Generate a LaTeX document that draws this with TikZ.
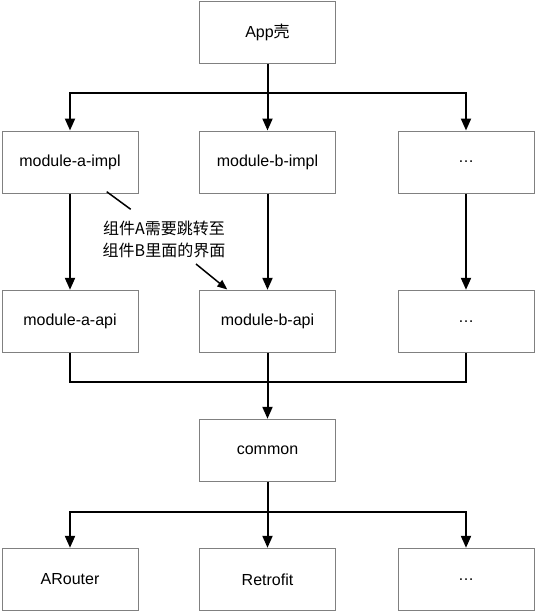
\documentclass[tikz,border=0pt]{standalone}
\usepackage{fontspec}
\setmainfont{Liberation Sans}
\newfontfamily\cjk{Noto Sans CJK SC}
\usetikzlibrary{arrows.meta}
\definecolor{bordergray}{RGB}{128,128,128}
\begin{document}
\begin{tikzpicture}[x=1pt,y=-1pt,
  box/.style={draw=bordergray, line width=1pt, minimum width=136pt, minimum height=62pt, inner sep=0pt, font=\fontsize{16}{19}\selectfont},
  conn/.style={line width=2pt, -{Triangle[length=12pt,width=10pt]}},
  link/.style={line width=2pt},
  notelink/.style={line width=1.5pt},
  notearrow/.style={line width=1.5pt, -{Triangle[length=10pt,width=8pt]}},
  note/.style={font=\cjk\fontsize{16}{22}\selectfont, align=center, inner sep=0pt}
]
\useasboundingbox (0,0) rectangle (535,611);
\node[box] (app) at (267.5,32.3) {App{\cjk 壳}};
\node[box] (ai) at (70,162) {module-a-impl};
\node[box] (bi) at (267.5,162) {module-b-impl};
\node[box] (ci) at (466,162) {…};
\node[box] (aa) at (70,321.3) {module-a-api};
\node[box] (ba) at (267.5,321.3) {module-b-api};
\node[box] (ca) at (466,321.3) {…};
\node[box] (com) at (267.5,450.3) {common};
\node[box] (ar) at (70,579.3) {ARouter};
\node[box] (rf) at (267.5,579.3) {Retrofit};
\node[box] (cl) at (466,579.3) {…};

\coordinate (s1) at (267.5,92.7);
\coordinate (s2) at (267.5,381.7);
\coordinate (s3) at (267.5,512);

\draw[conn] (app.south) -- (s1) -| (ai.north);
\draw[conn] (s1) -- (bi.north);
\draw[conn] (s1) -| (ci.north);

\draw[conn] (ai.south) -- (aa.north);
\draw[conn] (bi.south) -- (ba.north);
\draw[conn] (ci.south) -- (ca.north);

\draw[link] (aa.south) |- (s2) -| (ca.south);
\draw[link] (ba.south) -- (s2);
\draw[conn] (s2) -- (com.north);

\draw[conn] (com.south) -- (s3) -| (ar.north);
\draw[conn] (s3) -- (rf.north);
\draw[conn] (s3) -| (cl.north);

\node[note] (txt) at (164,239) {组件A需要跳转至\\组件B里面的界面};
\coordinate (n1) at (106.7,191.7);
\coordinate (n2) at (130.7,209.3);
\coordinate (n3) at (196,264);
\coordinate (n4) at (227.3,289.5);
\draw[notelink] (n1) -- (n2);
\draw[notearrow] (n3) -- (n4);
\end{tikzpicture}
\end{document}
